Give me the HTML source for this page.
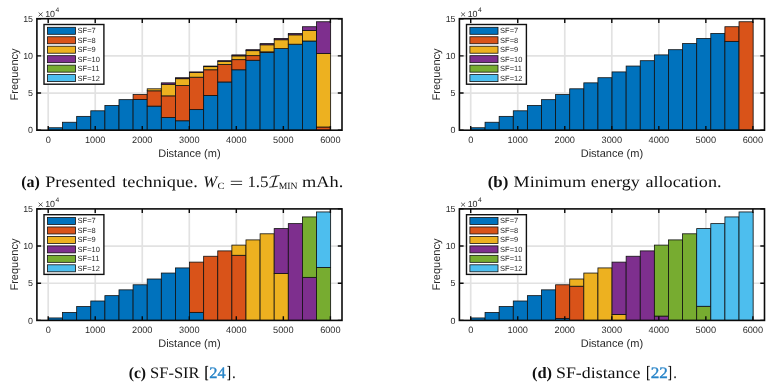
<!DOCTYPE html>
<html><head><meta charset="utf-8"><title>Figure</title>
<style>html,body{margin:0;padding:0;background:#fff;}body{width:776px;height:389px;overflow:hidden;font-family:"Liberation Sans",sans-serif;}svg{display:block;filter:blur(0.3px);}</style>
</head><body>
<svg width="776" height="389" viewBox="0 0 776 389" text-rendering="geometricPrecision">
<rect width="776" height="389" fill="#fff"/>
<g font-family="Liberation Sans, sans-serif" fill="#2a2a2a">
<g transform="translate(0,0)">
<path d="M48.20 18.70V130.20M95.23 18.70V130.20M142.26 18.70V130.20M189.29 18.70V130.20M236.32 18.70V130.20M283.35 18.70V130.20M330.38 18.70V130.20M36.90 93.03H342.00M36.90 55.87H342.00" stroke="#e2e2e2" stroke-width="1.7" fill="none"/>
<rect x="48.45" y="127.75" width="14.11" height="2.45" fill="#0072BD" stroke="#111" stroke-width="0.8"/>
<rect x="62.56" y="122.25" width="14.11" height="7.95" fill="#0072BD" stroke="#111" stroke-width="0.8"/>
<rect x="76.67" y="116.37" width="14.11" height="13.83" fill="#0072BD" stroke="#111" stroke-width="0.8"/>
<rect x="90.78" y="110.80" width="14.11" height="19.40" fill="#0072BD" stroke="#111" stroke-width="0.8"/>
<rect x="104.89" y="105.45" width="14.11" height="24.75" fill="#0072BD" stroke="#111" stroke-width="0.8"/>
<rect x="119.00" y="99.65" width="14.11" height="30.55" fill="#0072BD" stroke="#111" stroke-width="0.8"/>
<rect x="133.10" y="99.50" width="14.11" height="30.70" fill="#0072BD" stroke="#111" stroke-width="0.8"/>
<rect x="133.10" y="94.59" width="14.11" height="4.91" fill="#D95319" stroke="#111" stroke-width="0.8"/>
<rect x="147.21" y="106.12" width="14.11" height="24.08" fill="#0072BD" stroke="#111" stroke-width="0.8"/>
<rect x="147.21" y="90.80" width="14.11" height="15.31" fill="#D95319" stroke="#111" stroke-width="0.8"/>
<rect x="147.21" y="88.80" width="14.11" height="2.01" fill="#EDB120" stroke="#111" stroke-width="0.8"/>
<rect x="161.32" y="117.56" width="14.11" height="12.64" fill="#0072BD" stroke="#111" stroke-width="0.8"/>
<rect x="161.32" y="95.86" width="14.11" height="21.71" fill="#D95319" stroke="#111" stroke-width="0.8"/>
<rect x="161.32" y="84.26" width="14.11" height="11.60" fill="#EDB120" stroke="#111" stroke-width="0.8"/>
<rect x="161.32" y="82.85" width="14.11" height="1.41" fill="#7E2F8E" stroke="#111" stroke-width="0.8"/>
<rect x="175.43" y="120.76" width="14.11" height="9.44" fill="#0072BD" stroke="#111" stroke-width="0.8"/>
<rect x="175.43" y="85.60" width="14.11" height="35.16" fill="#D95319" stroke="#111" stroke-width="0.8"/>
<rect x="175.43" y="78.69" width="14.11" height="6.91" fill="#EDB120" stroke="#111" stroke-width="0.8"/>
<rect x="175.43" y="77.72" width="14.11" height="0.97" fill="#7E2F8E" stroke="#111" stroke-width="0.8"/>
<rect x="189.54" y="109.61" width="14.11" height="20.59" fill="#0072BD" stroke="#111" stroke-width="0.8"/>
<rect x="189.54" y="77.20" width="14.11" height="32.41" fill="#D95319" stroke="#111" stroke-width="0.8"/>
<rect x="189.54" y="72.59" width="14.11" height="4.61" fill="#EDB120" stroke="#111" stroke-width="0.8"/>
<rect x="189.54" y="71.92" width="14.11" height="0.67" fill="#7E2F8E" stroke="#111" stroke-width="0.8"/>
<rect x="203.65" y="95.41" width="14.11" height="34.79" fill="#0072BD" stroke="#111" stroke-width="0.8"/>
<rect x="203.65" y="69.77" width="14.11" height="25.64" fill="#D95319" stroke="#111" stroke-width="0.8"/>
<rect x="203.65" y="66.64" width="14.11" height="3.12" fill="#EDB120" stroke="#111" stroke-width="0.8"/>
<rect x="203.65" y="66.05" width="14.11" height="0.59" fill="#7E2F8E" stroke="#111" stroke-width="0.8"/>
<rect x="217.76" y="81.96" width="14.11" height="48.24" fill="#0072BD" stroke="#111" stroke-width="0.8"/>
<rect x="217.76" y="64.49" width="14.11" height="17.47" fill="#D95319" stroke="#111" stroke-width="0.8"/>
<rect x="217.76" y="61.29" width="14.11" height="3.20" fill="#EDB120" stroke="#111" stroke-width="0.8"/>
<rect x="217.76" y="60.70" width="14.11" height="0.59" fill="#7E2F8E" stroke="#111" stroke-width="0.8"/>
<rect x="231.87" y="69.77" width="14.11" height="60.43" fill="#0072BD" stroke="#111" stroke-width="0.8"/>
<rect x="231.87" y="59.66" width="14.11" height="10.11" fill="#D95319" stroke="#111" stroke-width="0.8"/>
<rect x="231.87" y="55.87" width="14.11" height="3.79" fill="#EDB120" stroke="#111" stroke-width="0.8"/>
<rect x="231.87" y="54.90" width="14.11" height="0.97" fill="#7E2F8E" stroke="#111" stroke-width="0.8"/>
<rect x="245.98" y="60.25" width="14.11" height="69.95" fill="#0072BD" stroke="#111" stroke-width="0.8"/>
<rect x="245.98" y="55.64" width="14.11" height="4.61" fill="#D95319" stroke="#111" stroke-width="0.8"/>
<rect x="245.98" y="50.66" width="14.11" height="4.98" fill="#EDB120" stroke="#111" stroke-width="0.8"/>
<rect x="245.98" y="49.70" width="14.11" height="0.97" fill="#7E2F8E" stroke="#111" stroke-width="0.8"/>
<rect x="260.09" y="52.60" width="14.11" height="77.60" fill="#0072BD" stroke="#111" stroke-width="0.8"/>
<rect x="260.09" y="51.85" width="14.11" height="0.74" fill="#D95319" stroke="#111" stroke-width="0.8"/>
<rect x="260.09" y="44.79" width="14.11" height="7.06" fill="#EDB120" stroke="#111" stroke-width="0.8"/>
<rect x="260.09" y="43.60" width="14.11" height="1.19" fill="#7E2F8E" stroke="#111" stroke-width="0.8"/>
<rect x="274.19" y="48.58" width="14.11" height="81.62" fill="#0072BD" stroke="#111" stroke-width="0.8"/>
<rect x="274.19" y="39.74" width="14.11" height="8.85" fill="#EDB120" stroke="#111" stroke-width="0.8"/>
<rect x="274.19" y="38.40" width="14.11" height="1.34" fill="#7E2F8E" stroke="#111" stroke-width="0.8"/>
<rect x="288.30" y="44.20" width="14.11" height="86.00" fill="#0072BD" stroke="#111" stroke-width="0.8"/>
<rect x="288.30" y="34.83" width="14.11" height="9.37" fill="#EDB120" stroke="#111" stroke-width="0.8"/>
<rect x="288.30" y="33.42" width="14.11" height="1.41" fill="#7E2F8E" stroke="#111" stroke-width="0.8"/>
<rect x="302.41" y="41.00" width="14.11" height="89.20" fill="#0072BD" stroke="#111" stroke-width="0.8"/>
<rect x="302.41" y="30.59" width="14.11" height="10.41" fill="#EDB120" stroke="#111" stroke-width="0.8"/>
<rect x="302.41" y="26.73" width="14.11" height="3.87" fill="#7E2F8E" stroke="#111" stroke-width="0.8"/>
<rect x="316.52" y="127.00" width="14.11" height="3.20" fill="#D95319" stroke="#111" stroke-width="0.8"/>
<rect x="316.52" y="53.49" width="14.11" height="73.52" fill="#EDB120" stroke="#111" stroke-width="0.8"/>
<rect x="316.52" y="21.75" width="14.11" height="31.74" fill="#7E2F8E" stroke="#111" stroke-width="0.8"/>
<path d="M48.20 130.20v-4.2M48.20 18.70v4.2M95.23 130.20v-4.2M95.23 18.70v4.2M142.26 130.20v-4.2M142.26 18.70v4.2M189.29 130.20v-4.2M189.29 18.70v4.2M236.32 130.20v-4.2M236.32 18.70v4.2M283.35 130.20v-4.2M283.35 18.70v4.2M330.38 130.20v-4.2M330.38 18.70v4.2M36.90 130.20h4.2M342.00 130.20h-4.2M36.90 93.03h4.2M342.00 93.03h-4.2M36.90 55.87h4.2M342.00 55.87h-4.2M36.90 18.70h4.2M342.00 18.70h-4.2" stroke="#0a0a0a" stroke-width="1.4" fill="none"/>
<rect x="36.9" y="18.7" width="305.10" height="111.50" fill="none" stroke="#0a0a0a" stroke-width="1.6"/>
<text x="48.20" y="143.1" font-size="9.2" text-anchor="middle">0</text>
<text x="95.23" y="143.1" font-size="9.2" text-anchor="middle">1000</text>
<text x="142.26" y="143.1" font-size="9.2" text-anchor="middle">2000</text>
<text x="189.29" y="143.1" font-size="9.2" text-anchor="middle">3000</text>
<text x="236.32" y="143.1" font-size="9.2" text-anchor="middle">4000</text>
<text x="283.35" y="143.1" font-size="9.2" text-anchor="middle">5000</text>
<text x="330.38" y="143.1" font-size="9.2" text-anchor="middle">6000</text>
<text x="33.0" y="133.40" font-size="8.9" text-anchor="end">0</text>
<text x="33.0" y="96.23" font-size="8.9" text-anchor="end">5</text>
<text x="33.0" y="59.07" font-size="8.9" text-anchor="end">10</text>
<text x="33.0" y="21.90" font-size="8.9" text-anchor="end">15</text>
<path d="M38.6 12.5L42.6 16.3M42.6 12.5L38.6 16.3" stroke="#262626" stroke-width="0.75"/>
<text x="45.2" y="16.6" font-size="8.9">10</text>
<text x="55.4" y="12.0" font-size="6.7">4</text>
<text x="189.4" y="156.6" font-size="11" text-anchor="middle">Distance (m)</text>
<text transform="translate(17.7,74.4) rotate(-90)" x="0" y="0" font-size="11" text-anchor="middle">Frequency</text>
<rect x="44.0" y="24.5" width="59.9" height="59.7" fill="#fff" stroke="#111" stroke-width="1.4"/>
<rect x="47.4" y="27.30" width="28.1" height="7.0" fill="#0072BD" stroke="#111" stroke-width="0.8"/>
<text x="77.6" y="33.20" font-size="7.5" fill="#262626">SF=7</text>
<rect x="47.4" y="36.76" width="28.1" height="7.0" fill="#D95319" stroke="#111" stroke-width="0.8"/>
<text x="77.6" y="42.66" font-size="7.5" fill="#262626">SF=8</text>
<rect x="47.4" y="46.22" width="28.1" height="7.0" fill="#EDB120" stroke="#111" stroke-width="0.8"/>
<text x="77.6" y="52.12" font-size="7.5" fill="#262626">SF=9</text>
<rect x="47.4" y="55.68" width="28.1" height="7.0" fill="#7E2F8E" stroke="#111" stroke-width="0.8"/>
<text x="77.6" y="61.58" font-size="7.5" fill="#262626">SF=10</text>
<rect x="47.4" y="65.14" width="28.1" height="7.0" fill="#77AC30" stroke="#111" stroke-width="0.8"/>
<text x="77.6" y="71.04" font-size="7.5" fill="#262626">SF=11</text>
<rect x="47.4" y="74.60" width="28.1" height="7.0" fill="#4DBEEE" stroke="#111" stroke-width="0.8"/>
<text x="77.6" y="80.50" font-size="7.5" fill="#262626">SF=12</text>
</g>
<g transform="translate(422.5,0)">
<path d="M48.20 18.70V130.20M95.23 18.70V130.20M142.26 18.70V130.20M189.29 18.70V130.20M236.32 18.70V130.20M283.35 18.70V130.20M330.38 18.70V130.20M36.90 93.03H342.00M36.90 55.87H342.00" stroke="#e2e2e2" stroke-width="1.7" fill="none"/>
<rect x="48.45" y="127.75" width="14.11" height="2.45" fill="#0072BD" stroke="#111" stroke-width="0.8"/>
<rect x="62.56" y="122.25" width="14.11" height="7.95" fill="#0072BD" stroke="#111" stroke-width="0.8"/>
<rect x="76.67" y="116.37" width="14.11" height="13.83" fill="#0072BD" stroke="#111" stroke-width="0.8"/>
<rect x="90.78" y="110.80" width="14.11" height="19.40" fill="#0072BD" stroke="#111" stroke-width="0.8"/>
<rect x="104.89" y="105.45" width="14.11" height="24.75" fill="#0072BD" stroke="#111" stroke-width="0.8"/>
<rect x="119.00" y="99.65" width="14.11" height="30.55" fill="#0072BD" stroke="#111" stroke-width="0.8"/>
<rect x="133.10" y="94.59" width="14.11" height="35.61" fill="#0072BD" stroke="#111" stroke-width="0.8"/>
<rect x="147.21" y="88.80" width="14.11" height="41.40" fill="#0072BD" stroke="#111" stroke-width="0.8"/>
<rect x="161.32" y="82.85" width="14.11" height="47.35" fill="#0072BD" stroke="#111" stroke-width="0.8"/>
<rect x="175.43" y="77.72" width="14.11" height="52.48" fill="#0072BD" stroke="#111" stroke-width="0.8"/>
<rect x="189.54" y="71.92" width="14.11" height="58.28" fill="#0072BD" stroke="#111" stroke-width="0.8"/>
<rect x="203.65" y="66.05" width="14.11" height="64.15" fill="#0072BD" stroke="#111" stroke-width="0.8"/>
<rect x="217.76" y="60.70" width="14.11" height="69.50" fill="#0072BD" stroke="#111" stroke-width="0.8"/>
<rect x="231.87" y="54.90" width="14.11" height="75.30" fill="#0072BD" stroke="#111" stroke-width="0.8"/>
<rect x="245.98" y="49.70" width="14.11" height="80.50" fill="#0072BD" stroke="#111" stroke-width="0.8"/>
<rect x="260.09" y="43.60" width="14.11" height="86.60" fill="#0072BD" stroke="#111" stroke-width="0.8"/>
<rect x="274.19" y="38.40" width="14.11" height="91.80" fill="#0072BD" stroke="#111" stroke-width="0.8"/>
<rect x="288.30" y="33.42" width="14.11" height="96.78" fill="#0072BD" stroke="#111" stroke-width="0.8"/>
<rect x="302.41" y="41.37" width="14.11" height="88.83" fill="#0072BD" stroke="#111" stroke-width="0.8"/>
<rect x="302.41" y="26.73" width="14.11" height="14.64" fill="#D95319" stroke="#111" stroke-width="0.8"/>
<rect x="316.52" y="21.75" width="14.11" height="108.45" fill="#D95319" stroke="#111" stroke-width="0.8"/>
<path d="M48.20 130.20v-4.2M48.20 18.70v4.2M95.23 130.20v-4.2M95.23 18.70v4.2M142.26 130.20v-4.2M142.26 18.70v4.2M189.29 130.20v-4.2M189.29 18.70v4.2M236.32 130.20v-4.2M236.32 18.70v4.2M283.35 130.20v-4.2M283.35 18.70v4.2M330.38 130.20v-4.2M330.38 18.70v4.2M36.90 130.20h4.2M342.00 130.20h-4.2M36.90 93.03h4.2M342.00 93.03h-4.2M36.90 55.87h4.2M342.00 55.87h-4.2M36.90 18.70h4.2M342.00 18.70h-4.2" stroke="#0a0a0a" stroke-width="1.4" fill="none"/>
<rect x="36.9" y="18.7" width="305.10" height="111.50" fill="none" stroke="#0a0a0a" stroke-width="1.6"/>
<text x="48.20" y="143.1" font-size="9.2" text-anchor="middle">0</text>
<text x="95.23" y="143.1" font-size="9.2" text-anchor="middle">1000</text>
<text x="142.26" y="143.1" font-size="9.2" text-anchor="middle">2000</text>
<text x="189.29" y="143.1" font-size="9.2" text-anchor="middle">3000</text>
<text x="236.32" y="143.1" font-size="9.2" text-anchor="middle">4000</text>
<text x="283.35" y="143.1" font-size="9.2" text-anchor="middle">5000</text>
<text x="330.38" y="143.1" font-size="9.2" text-anchor="middle">6000</text>
<text x="33.0" y="133.40" font-size="8.9" text-anchor="end">0</text>
<text x="33.0" y="96.23" font-size="8.9" text-anchor="end">5</text>
<text x="33.0" y="59.07" font-size="8.9" text-anchor="end">10</text>
<text x="33.0" y="21.90" font-size="8.9" text-anchor="end">15</text>
<path d="M38.6 12.5L42.6 16.3M42.6 12.5L38.6 16.3" stroke="#262626" stroke-width="0.75"/>
<text x="45.2" y="16.6" font-size="8.9">10</text>
<text x="55.4" y="12.0" font-size="6.7">4</text>
<text x="189.4" y="156.6" font-size="11" text-anchor="middle">Distance (m)</text>
<text transform="translate(17.7,74.4) rotate(-90)" x="0" y="0" font-size="11" text-anchor="middle">Frequency</text>
<rect x="44.0" y="24.5" width="59.9" height="59.7" fill="#fff" stroke="#111" stroke-width="1.4"/>
<rect x="47.4" y="27.30" width="28.1" height="7.0" fill="#0072BD" stroke="#111" stroke-width="0.8"/>
<text x="77.6" y="33.20" font-size="7.5" fill="#262626">SF=7</text>
<rect x="47.4" y="36.76" width="28.1" height="7.0" fill="#D95319" stroke="#111" stroke-width="0.8"/>
<text x="77.6" y="42.66" font-size="7.5" fill="#262626">SF=8</text>
<rect x="47.4" y="46.22" width="28.1" height="7.0" fill="#EDB120" stroke="#111" stroke-width="0.8"/>
<text x="77.6" y="52.12" font-size="7.5" fill="#262626">SF=9</text>
<rect x="47.4" y="55.68" width="28.1" height="7.0" fill="#7E2F8E" stroke="#111" stroke-width="0.8"/>
<text x="77.6" y="61.58" font-size="7.5" fill="#262626">SF=10</text>
<rect x="47.4" y="65.14" width="28.1" height="7.0" fill="#77AC30" stroke="#111" stroke-width="0.8"/>
<text x="77.6" y="71.04" font-size="7.5" fill="#262626">SF=11</text>
<rect x="47.4" y="74.60" width="28.1" height="7.0" fill="#4DBEEE" stroke="#111" stroke-width="0.8"/>
<text x="77.6" y="80.50" font-size="7.5" fill="#262626">SF=12</text>
</g>
<g transform="translate(0,190.2)">
<path d="M48.20 18.70V130.20M95.23 18.70V130.20M142.26 18.70V130.20M189.29 18.70V130.20M236.32 18.70V130.20M283.35 18.70V130.20M330.38 18.70V130.20M36.90 93.03H342.00M36.90 55.87H342.00" stroke="#e2e2e2" stroke-width="1.7" fill="none"/>
<rect x="48.45" y="127.75" width="14.11" height="2.45" fill="#0072BD" stroke="#111" stroke-width="0.8"/>
<rect x="62.56" y="122.25" width="14.11" height="7.95" fill="#0072BD" stroke="#111" stroke-width="0.8"/>
<rect x="76.67" y="116.37" width="14.11" height="13.83" fill="#0072BD" stroke="#111" stroke-width="0.8"/>
<rect x="90.78" y="110.80" width="14.11" height="19.40" fill="#0072BD" stroke="#111" stroke-width="0.8"/>
<rect x="104.89" y="105.45" width="14.11" height="24.75" fill="#0072BD" stroke="#111" stroke-width="0.8"/>
<rect x="119.00" y="99.65" width="14.11" height="30.55" fill="#0072BD" stroke="#111" stroke-width="0.8"/>
<rect x="133.10" y="94.59" width="14.11" height="35.61" fill="#0072BD" stroke="#111" stroke-width="0.8"/>
<rect x="147.21" y="88.80" width="14.11" height="41.40" fill="#0072BD" stroke="#111" stroke-width="0.8"/>
<rect x="161.32" y="82.85" width="14.11" height="47.35" fill="#0072BD" stroke="#111" stroke-width="0.8"/>
<rect x="175.43" y="77.72" width="14.11" height="52.48" fill="#0072BD" stroke="#111" stroke-width="0.8"/>
<rect x="189.54" y="122.17" width="14.11" height="8.03" fill="#0072BD" stroke="#111" stroke-width="0.8"/>
<rect x="189.54" y="71.92" width="14.11" height="50.25" fill="#D95319" stroke="#111" stroke-width="0.8"/>
<rect x="203.65" y="66.05" width="14.11" height="64.15" fill="#D95319" stroke="#111" stroke-width="0.8"/>
<rect x="217.76" y="60.70" width="14.11" height="69.50" fill="#D95319" stroke="#111" stroke-width="0.8"/>
<rect x="231.87" y="65.08" width="14.11" height="65.12" fill="#D95319" stroke="#111" stroke-width="0.8"/>
<rect x="231.87" y="54.90" width="14.11" height="10.18" fill="#EDB120" stroke="#111" stroke-width="0.8"/>
<rect x="245.98" y="49.70" width="14.11" height="80.50" fill="#EDB120" stroke="#111" stroke-width="0.8"/>
<rect x="260.09" y="43.60" width="14.11" height="86.60" fill="#EDB120" stroke="#111" stroke-width="0.8"/>
<rect x="274.19" y="83.30" width="14.11" height="46.90" fill="#EDB120" stroke="#111" stroke-width="0.8"/>
<rect x="274.19" y="38.40" width="14.11" height="44.90" fill="#7E2F8E" stroke="#111" stroke-width="0.8"/>
<rect x="288.30" y="33.42" width="14.11" height="96.78" fill="#7E2F8E" stroke="#111" stroke-width="0.8"/>
<rect x="302.41" y="87.16" width="14.11" height="43.04" fill="#7E2F8E" stroke="#111" stroke-width="0.8"/>
<rect x="302.41" y="26.73" width="14.11" height="60.43" fill="#77AC30" stroke="#111" stroke-width="0.8"/>
<rect x="316.52" y="77.20" width="14.11" height="53.00" fill="#77AC30" stroke="#111" stroke-width="0.8"/>
<rect x="316.52" y="21.75" width="14.11" height="55.45" fill="#4DBEEE" stroke="#111" stroke-width="0.8"/>
<path d="M48.20 130.20v-4.2M48.20 18.70v4.2M95.23 130.20v-4.2M95.23 18.70v4.2M142.26 130.20v-4.2M142.26 18.70v4.2M189.29 130.20v-4.2M189.29 18.70v4.2M236.32 130.20v-4.2M236.32 18.70v4.2M283.35 130.20v-4.2M283.35 18.70v4.2M330.38 130.20v-4.2M330.38 18.70v4.2M36.90 130.20h4.2M342.00 130.20h-4.2M36.90 93.03h4.2M342.00 93.03h-4.2M36.90 55.87h4.2M342.00 55.87h-4.2M36.90 18.70h4.2M342.00 18.70h-4.2" stroke="#0a0a0a" stroke-width="1.4" fill="none"/>
<rect x="36.9" y="18.7" width="305.10" height="111.50" fill="none" stroke="#0a0a0a" stroke-width="1.6"/>
<text x="48.20" y="143.1" font-size="9.2" text-anchor="middle">0</text>
<text x="95.23" y="143.1" font-size="9.2" text-anchor="middle">1000</text>
<text x="142.26" y="143.1" font-size="9.2" text-anchor="middle">2000</text>
<text x="189.29" y="143.1" font-size="9.2" text-anchor="middle">3000</text>
<text x="236.32" y="143.1" font-size="9.2" text-anchor="middle">4000</text>
<text x="283.35" y="143.1" font-size="9.2" text-anchor="middle">5000</text>
<text x="330.38" y="143.1" font-size="9.2" text-anchor="middle">6000</text>
<text x="33.0" y="133.40" font-size="8.9" text-anchor="end">0</text>
<text x="33.0" y="96.23" font-size="8.9" text-anchor="end">5</text>
<text x="33.0" y="59.07" font-size="8.9" text-anchor="end">10</text>
<text x="33.0" y="21.90" font-size="8.9" text-anchor="end">15</text>
<path d="M38.6 12.5L42.6 16.3M42.6 12.5L38.6 16.3" stroke="#262626" stroke-width="0.75"/>
<text x="45.2" y="16.6" font-size="8.9">10</text>
<text x="55.4" y="12.0" font-size="6.7">4</text>
<text x="189.4" y="156.6" font-size="11" text-anchor="middle">Distance (m)</text>
<text transform="translate(17.7,74.4) rotate(-90)" x="0" y="0" font-size="11" text-anchor="middle">Frequency</text>
<rect x="44.0" y="24.5" width="59.9" height="59.7" fill="#fff" stroke="#111" stroke-width="1.4"/>
<rect x="47.4" y="27.30" width="28.1" height="7.0" fill="#0072BD" stroke="#111" stroke-width="0.8"/>
<text x="77.6" y="33.20" font-size="7.5" fill="#262626">SF=7</text>
<rect x="47.4" y="36.76" width="28.1" height="7.0" fill="#D95319" stroke="#111" stroke-width="0.8"/>
<text x="77.6" y="42.66" font-size="7.5" fill="#262626">SF=8</text>
<rect x="47.4" y="46.22" width="28.1" height="7.0" fill="#EDB120" stroke="#111" stroke-width="0.8"/>
<text x="77.6" y="52.12" font-size="7.5" fill="#262626">SF=9</text>
<rect x="47.4" y="55.68" width="28.1" height="7.0" fill="#7E2F8E" stroke="#111" stroke-width="0.8"/>
<text x="77.6" y="61.58" font-size="7.5" fill="#262626">SF=10</text>
<rect x="47.4" y="65.14" width="28.1" height="7.0" fill="#77AC30" stroke="#111" stroke-width="0.8"/>
<text x="77.6" y="71.04" font-size="7.5" fill="#262626">SF=11</text>
<rect x="47.4" y="74.60" width="28.1" height="7.0" fill="#4DBEEE" stroke="#111" stroke-width="0.8"/>
<text x="77.6" y="80.50" font-size="7.5" fill="#262626">SF=12</text>
</g>
<g transform="translate(422.5,190.2)">
<path d="M48.20 18.70V130.20M95.23 18.70V130.20M142.26 18.70V130.20M189.29 18.70V130.20M236.32 18.70V130.20M283.35 18.70V130.20M330.38 18.70V130.20M36.90 93.03H342.00M36.90 55.87H342.00" stroke="#e2e2e2" stroke-width="1.7" fill="none"/>
<rect x="48.45" y="127.75" width="14.11" height="2.45" fill="#0072BD" stroke="#111" stroke-width="0.8"/>
<rect x="62.56" y="122.25" width="14.11" height="7.95" fill="#0072BD" stroke="#111" stroke-width="0.8"/>
<rect x="76.67" y="116.37" width="14.11" height="13.83" fill="#0072BD" stroke="#111" stroke-width="0.8"/>
<rect x="90.78" y="110.80" width="14.11" height="19.40" fill="#0072BD" stroke="#111" stroke-width="0.8"/>
<rect x="104.89" y="105.45" width="14.11" height="24.75" fill="#0072BD" stroke="#111" stroke-width="0.8"/>
<rect x="119.00" y="99.65" width="14.11" height="30.55" fill="#0072BD" stroke="#111" stroke-width="0.8"/>
<rect x="133.10" y="128.19" width="14.11" height="2.01" fill="#0072BD" stroke="#111" stroke-width="0.8"/>
<rect x="133.10" y="94.59" width="14.11" height="33.60" fill="#D95319" stroke="#111" stroke-width="0.8"/>
<rect x="147.21" y="96.01" width="14.11" height="34.19" fill="#D95319" stroke="#111" stroke-width="0.8"/>
<rect x="147.21" y="88.80" width="14.11" height="7.21" fill="#EDB120" stroke="#111" stroke-width="0.8"/>
<rect x="161.32" y="82.85" width="14.11" height="47.35" fill="#EDB120" stroke="#111" stroke-width="0.8"/>
<rect x="175.43" y="77.72" width="14.11" height="52.48" fill="#EDB120" stroke="#111" stroke-width="0.8"/>
<rect x="189.54" y="124.25" width="14.11" height="5.95" fill="#EDB120" stroke="#111" stroke-width="0.8"/>
<rect x="189.54" y="71.92" width="14.11" height="52.33" fill="#7E2F8E" stroke="#111" stroke-width="0.8"/>
<rect x="203.65" y="66.05" width="14.11" height="64.15" fill="#7E2F8E" stroke="#111" stroke-width="0.8"/>
<rect x="217.76" y="60.70" width="14.11" height="69.50" fill="#7E2F8E" stroke="#111" stroke-width="0.8"/>
<rect x="231.87" y="125.89" width="14.11" height="4.31" fill="#7E2F8E" stroke="#111" stroke-width="0.8"/>
<rect x="231.87" y="54.90" width="14.11" height="70.99" fill="#77AC30" stroke="#111" stroke-width="0.8"/>
<rect x="245.98" y="49.70" width="14.11" height="80.50" fill="#77AC30" stroke="#111" stroke-width="0.8"/>
<rect x="260.09" y="43.60" width="14.11" height="86.60" fill="#77AC30" stroke="#111" stroke-width="0.8"/>
<rect x="274.19" y="116.08" width="14.11" height="14.12" fill="#77AC30" stroke="#111" stroke-width="0.8"/>
<rect x="274.19" y="38.40" width="14.11" height="77.68" fill="#4DBEEE" stroke="#111" stroke-width="0.8"/>
<rect x="288.30" y="33.42" width="14.11" height="96.78" fill="#4DBEEE" stroke="#111" stroke-width="0.8"/>
<rect x="302.41" y="26.73" width="14.11" height="103.47" fill="#4DBEEE" stroke="#111" stroke-width="0.8"/>
<rect x="316.52" y="21.75" width="14.11" height="108.45" fill="#4DBEEE" stroke="#111" stroke-width="0.8"/>
<path d="M48.20 130.20v-4.2M48.20 18.70v4.2M95.23 130.20v-4.2M95.23 18.70v4.2M142.26 130.20v-4.2M142.26 18.70v4.2M189.29 130.20v-4.2M189.29 18.70v4.2M236.32 130.20v-4.2M236.32 18.70v4.2M283.35 130.20v-4.2M283.35 18.70v4.2M330.38 130.20v-4.2M330.38 18.70v4.2M36.90 130.20h4.2M342.00 130.20h-4.2M36.90 93.03h4.2M342.00 93.03h-4.2M36.90 55.87h4.2M342.00 55.87h-4.2M36.90 18.70h4.2M342.00 18.70h-4.2" stroke="#0a0a0a" stroke-width="1.4" fill="none"/>
<rect x="36.9" y="18.7" width="305.10" height="111.50" fill="none" stroke="#0a0a0a" stroke-width="1.6"/>
<text x="48.20" y="143.1" font-size="9.2" text-anchor="middle">0</text>
<text x="95.23" y="143.1" font-size="9.2" text-anchor="middle">1000</text>
<text x="142.26" y="143.1" font-size="9.2" text-anchor="middle">2000</text>
<text x="189.29" y="143.1" font-size="9.2" text-anchor="middle">3000</text>
<text x="236.32" y="143.1" font-size="9.2" text-anchor="middle">4000</text>
<text x="283.35" y="143.1" font-size="9.2" text-anchor="middle">5000</text>
<text x="330.38" y="143.1" font-size="9.2" text-anchor="middle">6000</text>
<text x="33.0" y="133.40" font-size="8.9" text-anchor="end">0</text>
<text x="33.0" y="96.23" font-size="8.9" text-anchor="end">5</text>
<text x="33.0" y="59.07" font-size="8.9" text-anchor="end">10</text>
<text x="33.0" y="21.90" font-size="8.9" text-anchor="end">15</text>
<path d="M38.6 12.5L42.6 16.3M42.6 12.5L38.6 16.3" stroke="#262626" stroke-width="0.75"/>
<text x="45.2" y="16.6" font-size="8.9">10</text>
<text x="55.4" y="12.0" font-size="6.7">4</text>
<text x="189.4" y="156.6" font-size="11" text-anchor="middle">Distance (m)</text>
<text transform="translate(17.7,74.4) rotate(-90)" x="0" y="0" font-size="11" text-anchor="middle">Frequency</text>
<rect x="44.0" y="24.5" width="59.9" height="59.7" fill="#fff" stroke="#111" stroke-width="1.4"/>
<rect x="47.4" y="27.30" width="28.1" height="7.0" fill="#0072BD" stroke="#111" stroke-width="0.8"/>
<text x="77.6" y="33.20" font-size="7.5" fill="#262626">SF=7</text>
<rect x="47.4" y="36.76" width="28.1" height="7.0" fill="#D95319" stroke="#111" stroke-width="0.8"/>
<text x="77.6" y="42.66" font-size="7.5" fill="#262626">SF=8</text>
<rect x="47.4" y="46.22" width="28.1" height="7.0" fill="#EDB120" stroke="#111" stroke-width="0.8"/>
<text x="77.6" y="52.12" font-size="7.5" fill="#262626">SF=9</text>
<rect x="47.4" y="55.68" width="28.1" height="7.0" fill="#7E2F8E" stroke="#111" stroke-width="0.8"/>
<text x="77.6" y="61.58" font-size="7.5" fill="#262626">SF=10</text>
<rect x="47.4" y="65.14" width="28.1" height="7.0" fill="#77AC30" stroke="#111" stroke-width="0.8"/>
<text x="77.6" y="71.04" font-size="7.5" fill="#262626">SF=11</text>
<rect x="47.4" y="74.60" width="28.1" height="7.0" fill="#4DBEEE" stroke="#111" stroke-width="0.8"/>
<text x="77.6" y="80.50" font-size="7.5" fill="#262626">SF=12</text>
</g>
</g>
<g font-family="Liberation Serif, serif" fill="#111">
<text x="21.30" y="187.4" font-size="16" textLength="18.60" lengthAdjust="spacingAndGlyphs" font-weight="bold">(a)</text>
<text x="45.17" y="187.4" font-size="16" textLength="70.54" lengthAdjust="spacingAndGlyphs">Presented</text>
<text x="122.22" y="187.4" font-size="16" textLength="75.59" lengthAdjust="spacingAndGlyphs">technique.</text>
<text x="203.31" y="187.4" font-size="16" textLength="13.74" lengthAdjust="spacingAndGlyphs" font-style="italic">W</text>
<text x="217.46" y="189.3" font-size="9.5" textLength="7.13" lengthAdjust="spacingAndGlyphs">C</text>
<path d="M230.8 181.3H242.1M230.8 184.5H242.1" stroke="#111" stroke-width="0.8"/>
<text x="247.41" y="187.4" font-size="16" textLength="21.15" lengthAdjust="spacingAndGlyphs">1.5</text>
<path d="M269.9 178.6C270.6 177.0 271.6 176.4 273.0 176.3L279.6 175.5M269.2 187.2L277.8 186.3" stroke="#111" stroke-width="0.8" fill="none"/>
<path d="M276.3 175.9L272.6 186.9" stroke="#111" stroke-width="1.3" fill="none"/>
<text x="278.72" y="189.3" font-size="9.5" textLength="18.81" lengthAdjust="spacingAndGlyphs">MIN</text>
<text x="302.02" y="187.4" font-size="16" textLength="41.19" lengthAdjust="spacingAndGlyphs">mAh.</text>
<text x="487.76" y="187.4" font-size="16" textLength="20.59" lengthAdjust="spacingAndGlyphs" font-weight="bold">(b)</text>
<text x="513.58" y="187.4" font-size="16" textLength="72.40" lengthAdjust="spacingAndGlyphs">Minimum</text>
<text x="590.89" y="187.4" font-size="16" textLength="48.87" lengthAdjust="spacingAndGlyphs">energy</text>
<text x="645.47" y="187.4" font-size="16" textLength="76.03" lengthAdjust="spacingAndGlyphs">allocation.</text>
<text x="128.71" y="377.5" font-size="16" textLength="17.38" lengthAdjust="spacingAndGlyphs" font-weight="bold">(c)</text>
<text x="150.10" y="377.5" font-size="16" textLength="49.41" lengthAdjust="spacingAndGlyphs">SF-SIR</text>
<path d="M208.20 366.35H206.07V379.85H208.20" stroke="#111" stroke-width="0.8" fill="none"/>
<path d="M206.07 366.00V380.20" stroke="#111" stroke-width="1.15" fill="none"/>
<text x="209.38" y="377.5" font-size="16" textLength="16.38" lengthAdjust="spacingAndGlyphs" fill="#2784c8" stroke="#2784c8" stroke-width="0.35">24</text>
<path d="M227.40 366.35H229.53V379.85H227.40" stroke="#111" stroke-width="0.8" fill="none"/>
<path d="M229.53 366.00V380.20" stroke="#111" stroke-width="1.15" fill="none"/>
<text x="231.99" y="377.5" font-size="16" textLength="3.81" lengthAdjust="spacingAndGlyphs">.</text>
<text x="531.97" y="377.5" font-size="16" textLength="20.15" lengthAdjust="spacingAndGlyphs" font-weight="bold">(d)</text>
<text x="556.00" y="377.5" font-size="16" textLength="84.32" lengthAdjust="spacingAndGlyphs">SF-distance</text>
<path d="M649.80 366.35H647.58V379.85H649.80" stroke="#111" stroke-width="0.8" fill="none"/>
<path d="M647.58 366.00V380.20" stroke="#111" stroke-width="1.15" fill="none"/>
<text x="650.65" y="377.5" font-size="16" textLength="17.09" lengthAdjust="spacingAndGlyphs" fill="#2784c8" stroke="#2784c8" stroke-width="0.35">22</text>
<path d="M668.40 366.35H670.52V379.85H668.40" stroke="#111" stroke-width="0.8" fill="none"/>
<path d="M670.52 366.00V380.20" stroke="#111" stroke-width="1.15" fill="none"/>
<text x="673.15" y="377.5" font-size="16" textLength="3.60" lengthAdjust="spacingAndGlyphs">.</text>
</g>
</svg>
</body></html>
